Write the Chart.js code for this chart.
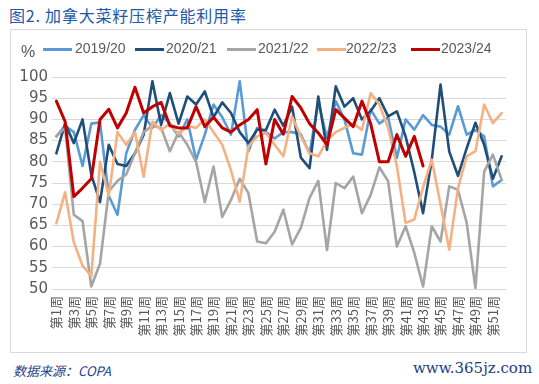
<!DOCTYPE html>
<html><head><meta charset="utf-8">
<script src="https://cdn.jsdelivr.net/npm/chart.js@4.4.1/dist/chart.umd.min.js"></script>
<style>
html,body{margin:0;padding:0;background:#fff;}
body{width:539px;height:384px;position:relative;overflow:hidden;font-family:"Liberation Sans",Arial,sans-serif;}
#title{position:absolute;left:9px;top:3px;font-family:"Noto Sans CJK SC";font-size:16px;color:#2259A8;white-space:nowrap;letter-spacing:0.8px;}
#frame{position:absolute;left:10px;top:29px;width:517px;height:324px;border:1px solid #D9D9D9;box-sizing:border-box;}
#wrap{position:absolute;left:10px;top:29px;width:516px;height:323px;}
#pct{position:absolute;left:21px;top:43px;font-size:16px;color:#595959;}
.li{position:absolute;top:48px;height:3px;width:29px;}
.lt{position:absolute;top:40px;font-size:14px;color:#595959;white-space:nowrap;}
#src{position:absolute;left:13px;top:361px;font-family:"Noto Sans CJK SC";font-style:italic;font-size:13px;color:#1F3F8F;}
#web{position:absolute;left:413px;top:359px;font-family:"DejaVu Serif",serif;font-size:15px;color:#1F3C88;}
</style></head>
<body>
<div id="title">图2. 加拿大菜籽压榨产能利用率</div>
<div id="frame"></div>
<div id="wrap"><canvas id="c"></canvas></div>
<div id="pct">%</div>
<div id="legend"></div>
<div id="src">数据来源：COPA</div>
<div id="web">www.365jz.com</div>
<script>
const weeks = ["第1周","第2周","第3周","第4周","第5周","第6周","第7周","第8周","第9周","第10周",
"第11周","第12周","第13周","第14周","第15周","第16周","第17周","第18周","第19周","第20周",
"第21周","第22周","第23周","第24周","第25周","第26周","第27周","第28周","第29周","第30周",
"第31周","第32周","第33周","第34周","第35周","第36周","第37周","第38周","第39周","第40周",
"第41周","第42周","第43周","第44周","第45周","第46周","第47周","第48周","第49周","第50周",
"第51周","第52周"];
const yTicks = [50,55,60,65,70,75,80,85,90,95,100];
const seriesNames = ["2019/20","2020/21","2021/22","2022/23","2023/24"];
const s1920 = [86,88.5,87,79,89,89.3,72,67.5,82,87.5,91,88,91,89,86,90,80.5,86.4,93.5,90.5,86.4,99,82.5,88,87,85.5,87,87,86.5,82,94,85.6,94.3,90,82,81.7,92.3,89,90.5,80.9,90,87.6,91,88.7,88.3,86.4,93.1,86.4,87.5,86,74.2,75.7];
const s2021 = [82,89,84.4,90,77,70.5,84,79.5,79,82,86.4,99,88.7,96.2,89,95.4,93.5,96.6,90.5,94,91.5,87,84.4,87.6,87.5,92.3,88.5,93,81,78.5,95.4,82.8,97.8,93,95,90,92,95,90.7,91.9,86,77.5,67.9,80.5,98.2,82.4,76.7,83.2,89.2,84,76,81.3];
const s2122 = [86,88,67.5,66,50.6,56,73,75.5,77,82,87,88.5,88,82.5,87,84,80,70.5,78.9,67,71,76,72.6,61.2,60.8,63.5,68.7,60.5,64.4,71.5,75.5,59.2,75,73.8,76.5,67.9,72.2,78.7,75.4,60,64.8,58.5,50.6,64.8,61.2,74.2,73.4,65.6,50.2,77.7,81.7,75.8];
const s2223 = [65.5,72.8,61,55.5,53,80,72,87,84,87,76.5,89.5,87.5,89,86.5,88.5,88,90,87,84,78,70.6,83.6,86,86.8,84,81.3,90.7,86,82,81.3,85,87,88,89,87.5,96.2,93.5,88,79,65.6,66.4,74,80.5,70,59.3,73.8,81.3,82.5,93.5,89.1,91.5];
const s2324 = [94.3,89.5,71.8,73.8,76,90,92.4,88,91.5,97.6,91.5,93,94,88.5,88,88,93,88.3,90.5,88,87,88.7,90,92.3,79.5,90,86.5,95.4,92.7,89,86.8,84,92.3,90.3,88.3,94.3,89,80,80,86.4,81.3,86,79];
const colors = ["#5B9BD5","#1F4E79","#A5A5A5","#F4B183","#C00000"];
const allSeries = [s1920,s2021,s2122,s2223,s2324];

const legPos = [[43,75],[135,166],[227,258],[317,346],[411,441]];
const legend = document.getElementById('legend');
seriesNames.forEach((n,i)=>{
  const l=document.createElement('div');l.className='li';l.style.left=legPos[i][0]+'px';l.style.background=colors[i];legend.appendChild(l);
  const t=document.createElement('div');t.className='lt';t.style.left=legPos[i][1]+'px';t.textContent=n;legend.appendChild(t);
});

new Chart(document.getElementById('c'), {
  type:'line',
  data:{labels:weeks, datasets: allSeries.map((d,i)=>({
    label:seriesNames[i], data:d, borderColor:colors[i], backgroundColor:colors[i],
    borderWidth: i===4?3:2.6, pointRadius:0, tension:0, fill:false, order:5-i,
    borderJoinStyle:'round', borderCapStyle:'round'
  }))},
  options:{
    responsive:true, maintainAspectRatio:false, animation:false,
    layout:{padding:{top:48,left:0,right:20,bottom:0}},
    plugins:{legend:{display:false}, tooltip:{enabled:false}},
    scales:{
      x:{offset:true, grid:{display:false, drawTicks:false}, border:{display:false},
        afterFit:(s)=>{s.height=63;},
        ticks:{autoSkip:false, minRotation:90, maxRotation:90, padding:7, color:'#595959',
          font:{family:'"Noto Sans CJK SC"', size:13},
          callback:function(v,i){return i%2===0?weeks[i]:'';}}},
      y:{min:50,max:100, afterFit:(s)=>{s.width=42;},
        afterBuildTicks:(s)=>{s.ticks=yTicks.map(v=>({value:v}));},
        grid:{color:'#D9D9D9', lineWidth:1, drawTicks:false}, border:{display:false},
        ticks:{padding:4, color:'#595959', font:{family:'"DejaVu Sans"', size:15}}}
    }
  }
});
</script>
</body></html>
